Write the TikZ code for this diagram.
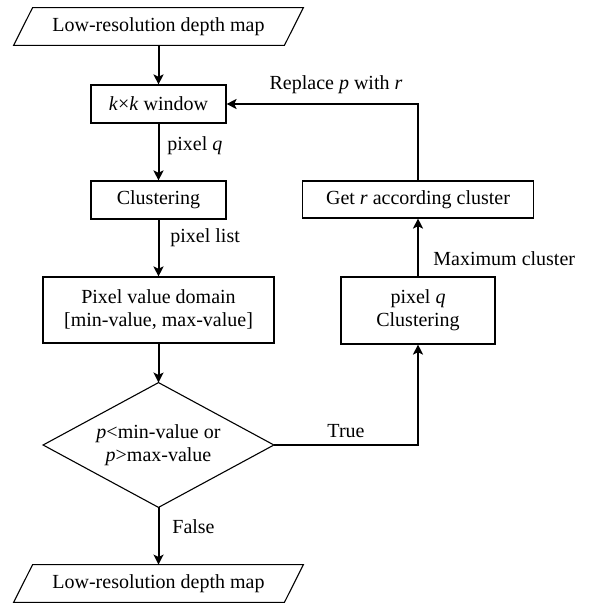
\documentclass[tikz,border=0pt]{standalone}
\usepackage{fontspec}
\setmainfont{Liberation Serif}
\usetikzlibrary{arrows.meta}
\begin{document}
\begin{tikzpicture}[x=0.5pt,y=-0.5pt,
  font=\fontsize{10}{11.5}\selectfont,
  box/.style={draw,line width=0.55pt,inner sep=0pt,align=center},
  io/.style={inner sep=0pt,minimum width=144.5pt,minimum height=18.5pt},
  dia/.style={inner sep=0pt,minimum width=115pt,minimum height=62pt,align=center},
  conn/.style={line width=1pt,-{Stealth[length=5pt,width=5pt,inset=1.2pt]}},
  lbl/.style={inner sep=0pt}]
\useasboundingbox (0,0) rectangle (592,603);
% input / output
\node[io] (in) at (158.5,26.5) {Low-resolution depth map};
\draw[line width=0.55pt] ([xshift=9.5pt]in.north west) -- (in.north east) -- ([xshift=-9.5pt]in.south east) -- (in.south west) -- cycle;
\node[io] (out) at (158.5,583.5) {Low-resolution depth map};
\draw[line width=0.55pt] ([xshift=9.5pt]out.north west) -- (out.north east) -- ([xshift=-9.5pt]out.south east) -- (out.south west) -- cycle;
% left column
\node[box,minimum width=67.5pt,minimum height=19pt] (win) at (158.5,104) {\textit{k}×\textit{k} window};
\node[box,minimum width=67.5pt,minimum height=19pt] (clu) at (158.5,200) {Clustering};
\node[box,minimum width=115.5pt,minimum height=33pt] (dom) at (158.5,310) {Pixel value domain\\{}[min-value, max-value]};
\node[dia] (dec) at (158.5,445) {\textit{p}<min-value or\\\textit{p}>max-value};
\draw[line width=0.55pt] (dec.north) -- (dec.east) -- (dec.south) -- (dec.west) -- cycle;
% right column
\node[box,minimum width=77pt,minimum height=33.5pt] (pq) at (418,310.5) {pixel \textit{q}\\Clustering};
\node[box,minimum width=115.5pt,minimum height=18.5pt] (getr) at (418,199.5) {Get \textit{r} according cluster};
% connectors
\draw[conn] (in) -- (win);
\draw[conn] (win) -- (clu);
\draw[conn] (clu) -- (dom);
\draw[conn] (dom) -- (dec.north);
\draw[conn] (dec.south) -- (out);
\draw[conn] (dec.east) -| (pq.south);
\draw[conn] (pq) -- (getr);
\draw[conn] (getr.north) |- (win.east);
% labels
\node[lbl,anchor=west] (l1) at (167,146) {pixel \textit{q}};
\node[lbl,anchor=west] (l2) at (170,238) {pixel list};
\node[lbl,anchor=west] (l3) at (172,527) {False};
\node[lbl] (l4) at (346,431) {True};
\node[lbl,anchor=west] (l5) at (433,259) {Maximum cluster};
\node[lbl] (l6) at (336,85) {Replace \textit{p} with \textit{r}};
\end{tikzpicture}
\end{document}
